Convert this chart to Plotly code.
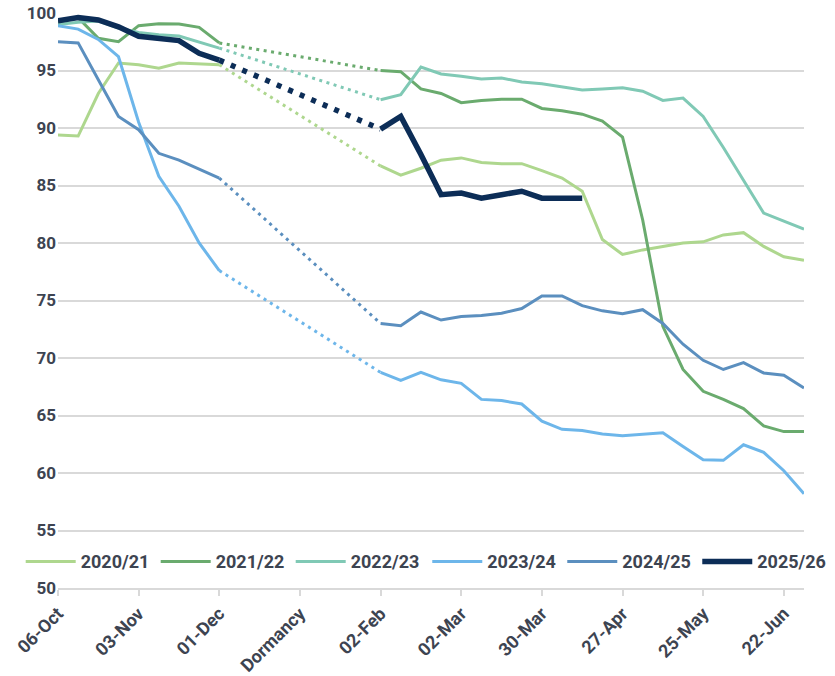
import plotly.graph_objects as go

# Week index: 06-Oct = 0 ... one point per week; dormancy gap between week 8 and week 16
tick_vals = [0, 4, 8, 12, 16, 20, 24, 28, 32, 36]
tick_text = ["06-Oct", "03-Nov", "01-Dec", "Dormancy", "02-Feb", "02-Mar",
             "30-Mar", "27-Apr", "25-May", "22-Jun"]

autumn_weeks = list(range(0, 9))      # 06-Oct .. 01-Dec
spring_weeks = list(range(16, 38))    # 02-Feb .. end of June

seasons = ["2020/21", "2021/22", "2022/23", "2023/24", "2024/25", "2025/26"]

autumn = {
    "2020/21": [89.4, 89.3, 93.0, 95.65, 95.5, 95.2, 95.65, 95.6, 95.5],
    "2021/22": [99.2, 99.6, 97.8, 97.5, 98.9, 99.07, 99.05, 98.75, 97.4],
    "2022/23": [99.0, 99.2, 99.3, 98.7, 98.3, 98.1, 98.0, 97.5, 96.95],
    "2023/24": [98.9, 98.6, 97.7, 96.2, 90.5, 85.8, 83.2, 80.0, 77.6],
    "2024/25": [97.5, 97.4, 94.2, 91.0, 89.85, 87.8, 87.2, 86.4, 85.65],
    "2025/26": [99.33, 99.6, 99.4, 98.8, 97.97, 97.8, 97.6, 96.5, 95.9],
}

spring = {
    "2020/21": [86.7, 85.9, 86.5, 87.2, 87.4, 87.0, 86.9, 86.9, 86.3, 85.65, 84.5,
                80.3, 79.0, 79.4, 79.7, 80.0, 80.1, 80.7, 80.9, 79.7, 78.8, 78.5],
    "2021/22": [95.0, 94.9, 93.4, 93.0, 92.2, 92.4, 92.5, 92.5, 91.7, 91.5, 91.2,
                90.6, 89.2, 82.0, 72.75, 69.0, 67.1, 66.4, 65.6, 64.1, 63.6, 63.6],
    "2022/23": [92.46, 92.9, 95.3, 94.7, 94.5, 94.26, 94.35, 94.0, 93.85, 93.56, 93.3,
                93.4, 93.5, 93.2, 92.4, 92.6, 91.0, 88.3, 85.5, 82.6, 81.9, 81.2],
    "2023/24": [68.75, 68.05, 68.75, 68.1, 67.8, 66.4, 66.3, 66.0, 64.5, 63.8, 63.7,
                63.4, 63.25, 63.4, 63.5, 62.3, 61.15, 61.1, 62.45, 61.8, 60.2, 58.2],
    "2024/25": [73.0, 72.8, 74.0, 73.3, 73.6, 73.7, 73.9, 74.3, 75.4, 75.4, 74.55,
                74.1, 73.85, 74.2, 73.0, 71.2, 69.8, 69.0, 69.6, 68.7, 68.5, 67.4],
    "2025/26": [89.9, 91.0, 87.7, 84.2, 84.35, 83.9, 84.2, 84.5, 83.9, 83.9, 83.9],
}

colors = {
    "2020/21": "#aed78e",
    "2021/22": "#6aab6e",
    "2022/23": "#80c9b5",
    "2023/24": "#6db6ea",
    "2024/25": "#5b8fbf",
    "2025/26": "#0c2d57",
}
widths = {s: 3 for s in seasons}
widths["2025/26"] = 5.5
dots = {s: "3px,4.5px" for s in seasons}
dots["2025/26"] = "5px,7.5px"
legend_of = {s: ("legend" if i < 3 else "legend2") for i, s in enumerate(seasons)}

fig = go.Figure()
for s in seasons:
    a = autumn[s]
    sp = spring[s]
    sw = spring_weeks[:len(sp)]
    # autumn solid
    fig.add_trace(go.Scatter(
        x=autumn_weeks, y=a, mode="lines", name=s, legendgroup=s,
        legend=legend_of[s],
        line=dict(color=colors[s], width=widths[s]), showlegend=True,
        hoverinfo="skip"))
    # dormancy dotted bridge
    fig.add_trace(go.Scatter(
        x=[autumn_weeks[-1], sw[0]], y=[a[-1], sp[0]], mode="lines",
        legendgroup=s, showlegend=False, legend=legend_of[s],
        line=dict(color=colors[s], width=widths[s], dash=dots[s]),
        hoverinfo="skip"))
    # spring solid
    fig.add_trace(go.Scatter(
        x=sw, y=sp, mode="lines", legendgroup=s, showlegend=False,
        legend=legend_of[s],
        line=dict(color=colors[s], width=widths[s]), hoverinfo="skip"))

font_family = "Roboto"
text_color = "#3d4451"
legend_font = dict(family=font_family, size=18, color=text_color, weight="bold")
legend_common = dict(
    orientation="h", xanchor="left", y=0.0457, yanchor="middle",
    bgcolor="rgba(0,0,0,0)", traceorder="normal", font=legend_font,
    entrywidth=70, entrywidthmode="pixels", itemwidth=50,
)

fig.update_layout(
    width=835, height=676,
    margin=dict(l=58, r=31, t=13, b=88, autoexpand=False),
    plot_bgcolor="white", paper_bgcolor="white",
    font=dict(family=font_family, color=text_color, size=18, weight="bold"),
    showlegend=True,
    legend=dict(x=-0.050, **legend_common),
    legend2=dict(x=0.495, **legend_common),
    xaxis=dict(
        range=[0, 37], tickmode="array", tickvals=tick_vals, ticktext=tick_text,
        tickangle=-45, showgrid=False, zeroline=False,
        showline=True, linecolor="#d9d9d9", linewidth=2,
        ticks="outside", ticklen=6, tickwidth=2, tickcolor="#d9d9d9",
        tickfont=dict(family=font_family, size=18, color=text_color, weight="bold"),
        automargin=False,
    ),
    yaxis=dict(
        range=[50, 100], tickmode="array", tickvals=list(range(50, 101, 5)),
        showgrid=True, gridcolor="#d9d9d9", gridwidth=2, zeroline=False,
        showline=False, ticks="", ticklabelstandoff=1,
        tickfont=dict(family=font_family, size=17, color=text_color, weight="bold"),
        automargin=False,
    ),
)

fig.write_html("out.html", config={"displayModeBar": False},
               post_script="document.body.style.margin='0px';")
